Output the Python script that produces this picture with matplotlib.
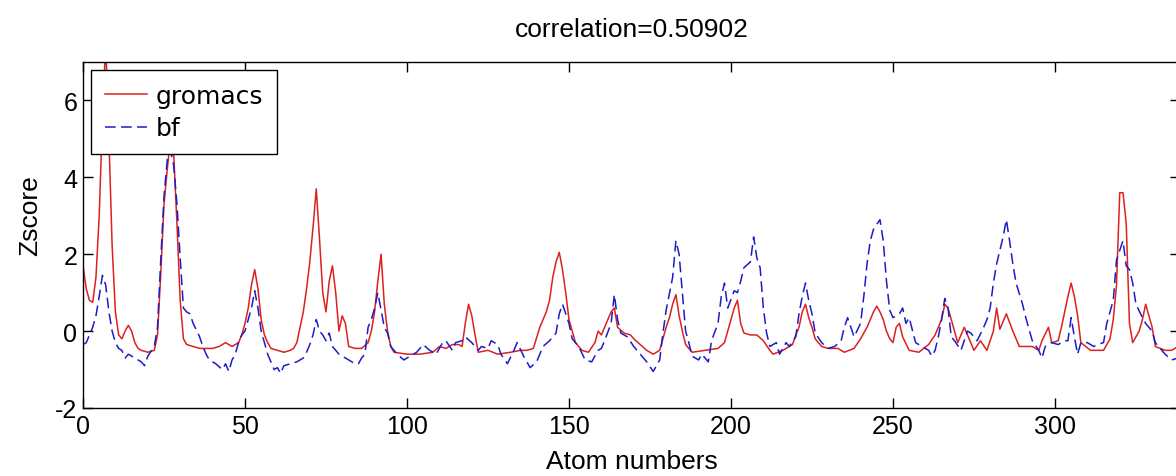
import matplotlib
matplotlib.use('Agg')
import matplotlib.pyplot as plt

# atom index / zscore
gro_x = [0, 1, 2, 3, 4, 5, 6, 7, 8, 9, 10, 11, 12, 13, 14, 15, 16, 17, 18, 20,
         22, 23, 24, 25, 26, 27, 28, 29, 30, 31, 32, 34, 36, 38, 40, 42, 44, 46, 48, 49,
         50, 51, 52, 53, 54, 55, 56, 57, 58, 60, 62, 64, 65, 66, 67, 68, 69, 70, 71, 72,
         73, 74, 75, 76, 77, 78, 79, 80, 81, 82, 84, 86, 88, 89, 90, 91, 92, 93, 94, 95,
         96, 100, 104, 108, 110, 112, 114, 116, 117, 118, 119, 120, 121, 122, 125, 128, 132, 135, 137, 139,
         141, 142, 143, 144, 145, 146, 147, 148, 149, 150, 151, 152, 154, 156, 158, 159, 160, 162, 163, 164,
         165, 167, 169, 170, 172, 174, 176, 178, 179, 180, 181, 182, 183, 184, 185, 186, 188, 192, 196, 198,
         199, 200, 201, 202, 203, 204, 206, 208, 210, 212, 213, 216, 219, 220, 221, 222, 223, 224, 225, 226,
         228, 230, 233, 235, 238, 240, 241, 242, 243, 244, 245, 246, 247, 248, 249, 250, 251, 252, 253, 255,
         258, 261, 263, 264, 265, 266, 267, 268, 269, 270, 272, 274, 275, 277, 279, 281, 282, 283, 285, 287,
         289, 293, 295, 296, 298, 299, 301, 302, 303, 304, 305, 306, 307, 308, 311, 315, 317, 318, 319, 320,
         321, 322, 323, 324, 326, 327, 328, 329, 330, 331, 334, 336, 338]
gro_y = [1.7, 1.1, 0.8, 0.75, 1.4, 3.0, 5.5, 7.5, 5.0, 2.2, 0.5, -0.1, -0.2, 0.0, 0.15, 0.0, -0.3, -0.45, -0.5, -0.55,
         -0.5, -0.1, 1.5, 3.3, 4.2, 5.0, 4.6, 2.8, 0.8, -0.2, -0.35, -0.4, -0.45, -0.45, -0.45, -0.4, -0.3, -0.4, -0.3, -0.1,
         0.2, 0.6, 1.2, 1.6, 1.1, 0.3, -0.1, -0.3, -0.45, -0.5, -0.55, -0.5, -0.45, -0.3, 0.1, 0.5, 1.1, 1.8, 2.7, 3.7,
         2.4, 1.0, 0.5, 1.3, 1.7, 1.0, 0.0, 0.4, 0.2, -0.4, -0.45, -0.45, -0.3, 0.0, 0.5, 1.3, 2.0, 0.7, 0.0, -0.4,
         -0.55, -0.6, -0.6, -0.55, -0.4, -0.45, -0.35, -0.35, -0.4, 0.2, 0.7, 0.4, -0.1, -0.55, -0.5, -0.6, -0.55, -0.5, -0.5, -0.45,
         0.1, 0.3, 0.5, 0.8, 1.4, 1.8, 2.05, 1.6, 1.0, 0.3, 0.0, -0.3, -0.5, -0.55, -0.3, 0.0, -0.1, 0.3, 0.5, 0.6,
         0.1, -0.05, -0.1, -0.2, -0.35, -0.5, -0.6, -0.5, -0.2, 0.1, 0.35, 0.7, 0.95, 0.4, 0.0, -0.35, -0.55, -0.5, -0.45, -0.3,
         0.0, 0.3, 0.6, 0.8, 0.2, -0.05, -0.1, -0.1, -0.25, -0.5, -0.6, -0.5, -0.35, -0.1, 0.1, 0.5, 0.7, 0.35, 0.1, -0.2,
         -0.4, -0.45, -0.45, -0.55, -0.45, -0.2, -0.05, 0.1, 0.3, 0.5, 0.65, 0.5, 0.3, 0.0, -0.2, -0.3, 0.1, 0.2, -0.15, -0.5,
         -0.55, -0.35, -0.1, 0.1, 0.3, 0.7, 0.6, 0.3, 0.0, -0.3, 0.1, -0.3, -0.5, -0.25, -0.5, 0.0, 0.6, 0.05, 0.45, 0.0,
         -0.4, -0.4, -0.5, -0.25, 0.1, -0.3, -0.25, 0.1, 0.5, 0.9, 1.25, 0.9, 0.4, -0.3, -0.5, -0.5, -0.2, 0.3, 1.2, 3.6,
         3.6, 2.8, 0.2, -0.3, 0.0, 0.3, 0.7, 0.4, 0.1, -0.4, -0.5, -0.5, -0.4]

bf_x = [0, 1, 2, 3, 4, 5, 6, 7, 8, 9, 10, 11, 12, 13, 14, 16, 18, 19, 20, 22,
        23, 24, 25, 26, 27, 28, 29, 30, 31, 32, 33, 34, 36, 37, 38, 39, 41, 43, 44, 45,
        46, 47, 48, 49, 50, 51, 52, 53, 54, 55, 56, 57, 58, 59, 60, 61, 62, 64, 66, 68,
        69, 70, 71, 72, 73, 74, 75, 76, 77, 79, 81, 82, 84, 85, 86, 87, 88, 89, 90, 91,
        92, 93, 94, 95, 97, 99, 101, 103, 105, 107, 109, 111, 112, 114, 115, 117, 118, 120, 122, 123,
        125, 126, 128, 129, 131, 133, 134, 136, 138, 140, 142, 144, 146, 147, 148, 150, 151, 153, 155, 157,
        159, 160, 161, 163, 164, 165, 166, 168, 170, 172, 174, 176, 178, 179, 180, 182, 183, 184, 185, 186,
        187, 188, 190, 191, 193, 194, 196, 197, 198, 199, 201, 202, 203, 204, 206, 207, 208, 209, 210, 211,
        212, 214, 215, 217, 218, 220, 221, 222, 223, 224, 225, 226, 228, 230, 232, 234, 235, 236, 237, 238,
        240, 241, 242, 243, 244, 246, 247, 248, 249, 250, 252, 253, 254, 255, 257, 259, 261, 262, 263, 264,
        265, 266, 267, 268, 269, 271, 273, 274, 276, 278, 279, 280, 281, 282, 284, 285, 286, 287, 288, 290,
        291, 293, 295, 296, 297, 299, 301, 303, 304, 305, 306, 307, 308, 310, 312, 313, 315, 316, 318, 319,
        321, 322, 323, 324, 325, 327, 328, 330, 331, 333, 334, 336, 338]
bf_y = [-0.35, -0.3, -0.1, 0.1, 0.4, 0.9, 1.45, 1.2, 0.5, 0.0, -0.3, -0.45, -0.5, -0.7, -0.6, -0.7, -0.8, -0.9, -0.65, -0.4,
        0.1, 1.85, 3.5, 4.45, 4.7, 4.3, 3.3, 1.9, 0.6, 0.5, 0.45, 0.2, -0.15, -0.4, -0.6, -0.75, -0.85, -1.0, -0.85, -1.05,
        -0.75, -0.6, -0.3, -0.1, 0.0, 0.3, 0.6, 1.05, 0.6, 0.0, -0.3, -0.6, -0.8, -1.0, -0.95, -1.1, -0.9, -0.85, -0.8, -0.7,
        -0.55, -0.35, -0.1, 0.3, 0.0, -0.1, -0.25, -0.05, -0.4, -0.6, -0.7, -0.75, -0.85, -0.85, -0.7, -0.6, 0.1, 0.3, 0.6, 1.0,
        0.55, 0.1, -0.05, -0.4, -0.6, -0.75, -0.65, -0.55, -0.35, -0.5, -0.6, -0.3, -0.25, -0.5, -0.3, -0.25, -0.15, -0.3, -0.5, -0.4,
        -0.45, -0.25, -0.35, -0.6, -0.85, -0.5, -0.3, -0.65, -0.95, -0.8, -0.4, -0.25, -0.05, 0.45, 0.7, 0.2, -0.2, -0.4, -0.75, -0.8,
        -0.5, -0.45, -0.25, 0.2, 0.95, 0.3, -0.05, -0.15, -0.4, -0.6, -0.8, -1.05, -0.75, -0.05, 0.55, 1.4, 2.35, 2.0, 1.0, 0.0,
        -0.3, -0.65, -0.75, -0.6, -0.8, -0.25, 0.2, 0.9, 1.25, 0.6, 1.05, 1.0, 1.3, 1.65, 1.8, 2.45, 1.9, 1.65, 0.6, -0.05,
        -0.4, -0.3, -0.6, -0.3, -0.4, -0.15, 0.45, 0.9, 1.25, 0.8, 0.45, -0.05, -0.3, -0.45, -0.4, -0.25, 0.1, 0.35, 0.1, -0.15,
        0.2, 0.9, 1.75, 2.35, 2.65, 2.9, 2.35, 1.3, 0.55, 0.35, 0.45, 0.6, 0.2, 0.35, -0.3, -0.4, -0.5, -0.65, -0.5, -0.15,
        0.3, 0.85, 0.6, -0.15, -0.25, -0.5, 0.0, -0.05, -0.25, 0.1, 0.3, 0.6, 1.25, 1.75, 2.45, 2.9, 2.35, 1.75, 1.25, 0.7,
        0.35, -0.25, -0.5, -0.7, -0.4, -0.3, -0.35, -0.25, -0.25, 0.35, -0.15, -0.6, -0.3, -0.3, -0.4, -0.35, -0.3, 0.2, 0.8, 1.85,
        2.35, 1.7, 1.6, 1.25, 0.7, 0.35, 0.2, 0.0, -0.3, -0.5, -0.6, -0.75, -0.7]

x_ticks = [0, 50, 100, 150, 200, 250, 300]
y_ticks = [-2, 0, 2, 4, 6]

plt.rcParams['font.family'] = ['Liberation Sans', 'DejaVu Sans']
plt.rcParams['axes.unicode_minus'] = False

fig = plt.figure(figsize=(11.76, 4.77), dpi=100)
W, H = 1176.0, 477.0
# axes box in pixels: left 83, right ~1180 (cut by the image edge), top 63, bottom 409
ax = fig.add_axes([83 / W, (H - 409) / H, (1180 - 83) / W, (409 - 63) / H])

ax.plot(gro_x, gro_y, color='#dd2020', lw=1.1, label='gromacs')
ax.plot(bf_x, bf_y, color='#1c1cc8', lw=1.1, dashes=(7, 3.5), label='bf')

ax.set_xlim(0, 338.6)
ax.set_ylim(-2, 7)
ax.set_xticks(x_ticks)
ax.set_yticks(y_ticks)
ax.tick_params(direction='in', top=True, right=True, length=7, width=1,
               labelsize=18, pad=4)
for s in ax.spines.values():
    s.set_linewidth(1)

ax.set_xlabel('Atom numbers', fontsize=19, labelpad=8)
ax.set_ylabel('Zscore', fontsize=19)
ax.yaxis.set_label_coords(-0.037, 0.56)
ax.set_title('correlation=0.50902', fontsize=19, pad=19)

leg = ax.legend(loc='upper left', bbox_to_anchor=(91 / W, 1 - 71 / H),
                bbox_transform=fig.transFigure, borderaxespad=0,
                fancybox=False, framealpha=1, edgecolor='black',
                prop={'family': 'DejaVu Sans', 'size': 18},
                handlelength=1.7, handletextpad=0.35, labelspacing=0.35,
                borderpad=0.55)
leg.get_frame().set_linewidth(1)

fig.savefig('out.png', dpi=100)
